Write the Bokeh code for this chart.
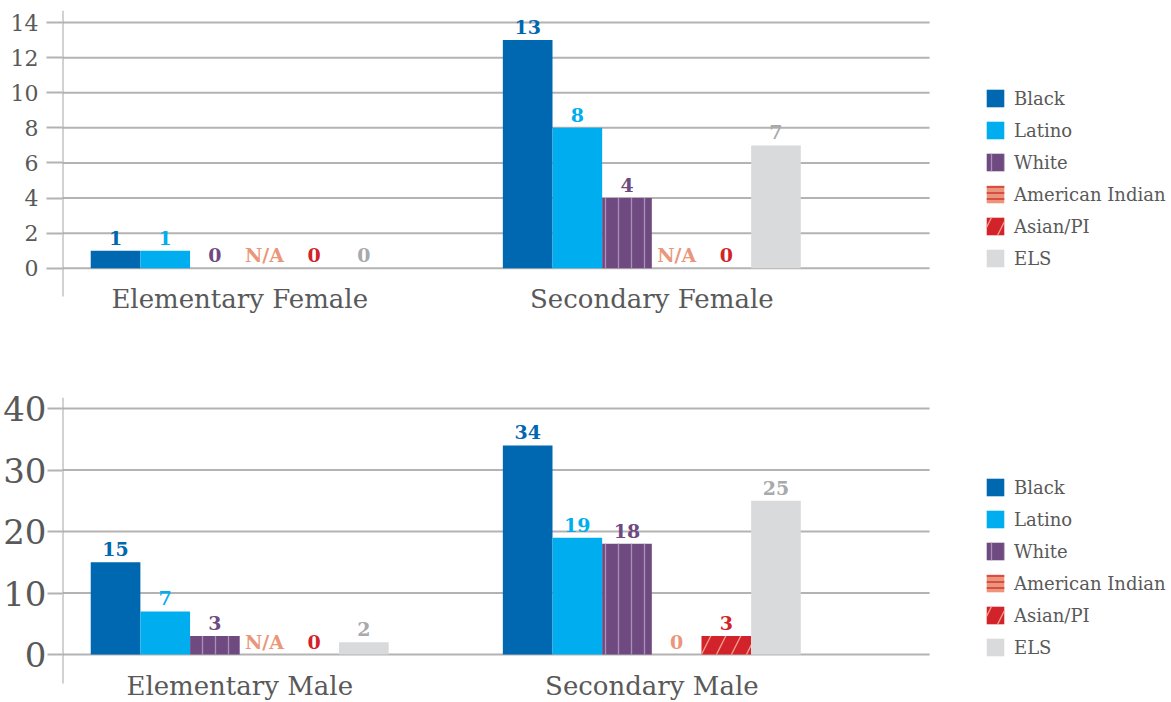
from bokeh.plotting import figure
from bokeh.models import ColumnDataSource, LabelSet, Legend, LegendItem, FixedTicker, Range1d
from bokeh.layouts import column
from bokeh.embed import file_html
from bokeh.resources import INLINE
from bokeh.core.properties import value

# ---------------- data ----------------
races = ["Black", "Latino", "White", "American Indian", "Asian/PI", "ELS"]
race_colors = ["#0067b1", "#00aeef", "#6f4a80", "#e9967a", "#d2232a", "#d9dadc"]
text_colors = ["#0067b1", "#00aeef", "#6f4a80", "#e9967a", "#d2232a", "#a7a9ac"]
hatch_patterns = [" ", " ", "|", "-", "/", " "]
hatch_colors = ["#0067b1", "#00aeef", "#a890b8", "#d2232a", "#f4a090", "#d9dadc"]
hatch_scales = [12, 12, 13, 6, 30, 12]

female_groups = ["Elementary Female", "Secondary Female"]
female_elementary = [1, 1, 0, None, 0, 0]
female_secondary = [13, 8, 4, None, 0, 7]
female_ticks = [0, 2, 4, 6, 8, 10, 12, 14]

male_groups = ["Elementary Male", "Secondary Male"]
male_elementary = [15, 7, 3, None, 0, 2]
male_secondary = [34, 19, 18, 0, 3, 25]
male_ticks = [0, 10, 20, 30, 40]

FONT = "DejaVu Serif"
GRID = "#b3b3b3"
TXT = "#595959"
group_pos = [1.0, 2.0]
bar_w = 0.1205
X0, XG, X1 = 0.570, 2.674, 3.261


def build(groups, series, ticks, y_start, y_end, axis_bottom, cat_y, height,
          border_top, tick_font, tick_out, standoff, cat_font, legend_vy):
    p = figure(width=1171, height=height, x_range=Range1d(X0, X1),
               y_range=Range1d(y_start, y_end), output_backend="svg",
               toolbar_location=None, min_border_left=61, min_border_right=0,
               min_border_top=border_top, min_border_bottom=0)
    p.xaxis.visible = False
    p.xgrid.visible = False
    p.ygrid.visible = False
    p.outline_line_color = None
    p.background_fill_color = None
    p.border_fill_color = None
    ax = p.yaxis[0]
    ax.ticker = FixedTicker(ticks=ticks)
    ax.axis_line_color = None
    ax.major_tick_in = 0
    ax.major_tick_out = tick_out
    ax.major_tick_line_color = GRID
    ax.major_tick_line_width = 2
    ax.minor_tick_line_color = None
    ax.major_label_text_font = FONT
    ax.major_label_text_font_size = tick_font
    ax.major_label_text_color = TXT
    ax.major_label_standoff = standoff

    # horizontal grid lines (limited to the plot area) and vertical axis line
    n = len(ticks)
    p.segment(x0=[X0] * n, y0=ticks, x1=[XG] * n, y1=ticks,
              line_color=GRID, line_width=2)
    p.segment(x0=[X0], y0=[axis_bottom], x1=[X0], y1=[y_end],
              line_color="#a6a6a6", line_width=2)

    items = []
    for j, race in enumerate(races):
        xs = [g + (j - 2.5) * bar_w for g in group_pos]
        vals = [s[j] for s in series]
        tops = [0 if v is None else v for v in vals]
        labels = ["N/A" if v is None else str(v) for v in vals]
        src = ColumnDataSource(dict(x=xs, top=tops, label=labels))
        r = p.vbar(x="x", top="top", bottom=0, width=bar_w, source=src,
                   fill_color=race_colors[j], line_color=None,
                   hatch_pattern=hatch_patterns[j], hatch_color=hatch_colors[j],
                   hatch_scale=hatch_scales[j], hatch_weight=1.3)
        items.append(LegendItem(label=race, renderers=[r]))
        p.add_layout(LabelSet(x="x", y="top", text="label", source=src,
                              text_align="center", text_baseline="alphabetic",
                              y_offset=6, text_font=value(FONT),
                              text_font_style="bold", text_font_size="19px",
                              text_color=text_colors[j]))

    csrc = ColumnDataSource(dict(x=group_pos, y=[cat_y] * len(groups), t=groups))
    p.text(x="x", y="y", text="t", source=csrc, text_align="center",
           text_baseline="middle", text_font=value(FONT),
           text_font_size=cat_font, text_color=TXT)

    leg = Legend(items=items, location=(922, legend_vy), orientation="vertical",
                 glyph_width=22, glyph_height=22, label_standoff=8, spacing=10,
                 padding=0, margin=0, border_line_color=None,
                 background_fill_alpha=0, label_text_font=FONT,
                 label_text_font_size="18px", label_text_color=TXT,
                 label_height=20)
    p.add_layout(leg)
    return p


top = build(female_groups, [female_elementary, female_secondary], female_ticks,
            y_start=-3.543, y_end=14.686, axis_bottom=-1.6, cat_y=-1.771,
            height=330, border_top=10, tick_font="22px", tick_out=16,
            standoff=8, cat_font="26px", legend_vy=61)
bottom = build(male_groups, [male_elementary, male_secondary], male_ticks,
               y_start=-7.8, y_end=41.79, axis_bottom=-4.72, cat_y=-5.04,
               height=372, border_top=67, tick_font="34px", tick_out=15,
               standoff=1, cat_font="26px", legend_vy=44)

layout = column(top, bottom)
open("out.html", "w").write(file_html(layout, INLINE))
